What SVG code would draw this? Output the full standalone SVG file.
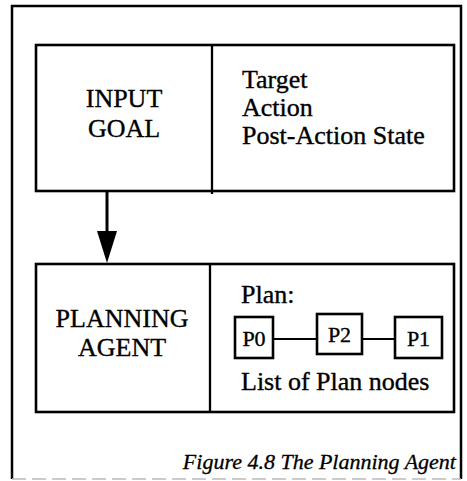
<svg xmlns="http://www.w3.org/2000/svg" width="467" height="481" viewBox="0 0 467 481">
  <style>
    .box { fill: none; stroke: #000; stroke-width: 2.6; }
    .rule { stroke: #000; stroke-width: 2.3; }
    .lbl { font-family: "Liberation Serif", "Times New Roman", serif; font-size: 26px; fill: #000; stroke: #000; stroke-width: 0.35; }
    .mid { text-anchor: middle; }
    .small { font-size: 22px; }
    .cap { font-family: "Liberation Serif", "Times New Roman", serif; font-size: 22px; font-style: italic; fill: #000; stroke: #000; stroke-width: 0.3; text-anchor: end; }
  </style>
  <rect width="467" height="481" fill="#fff"/>

  <!-- outer frame -->
  <g id="frame">
    <path d="M12,479 V6 H461 V479" fill="none" stroke="#000" stroke-width="2.5"/>
    <line x1="12" y1="479" x2="461" y2="479" stroke="#bbb" stroke-width="1.5" stroke-dasharray="14 6"/>
  </g>

  <!-- input goal -->
  <g id="input-goal">
    <rect class="box" x="36" y="45" width="418" height="146"/>
    <line class="rule" x1="212" y1="45" x2="212" y2="194"/>
    <text class="lbl mid" x="124" y="107">INPUT</text>
    <text class="lbl mid" x="124" y="137">GOAL</text>
    <text class="lbl" x="242" y="88">Target</text>
    <text class="lbl" x="242" y="116">Action</text>
    <text class="lbl" x="242" y="144">Post-Action State</text>
  </g>

  <!-- planning agent -->
  <g id="planning-agent">
    <rect class="box" x="36" y="264" width="418" height="148"/>
    <line class="rule" x1="210" y1="264" x2="210" y2="412"/>
    <text class="lbl mid" x="122" y="327">PLANNING</text>
    <text class="lbl mid" x="122" y="356">AGENT</text>
    <text class="lbl" x="241" y="303">Plan:</text>
    <text class="lbl" x="241" y="390">List of Plan nodes</text>
  </g>

  <g id="p0">
    <rect class="box" x="235" y="317" width="38" height="41"/>
    <text class="lbl small mid" x="254" y="346">P0</text>
  </g>
  <g id="p2">
    <rect class="box" x="317" y="314" width="45" height="40"/>
    <text class="lbl small mid" x="339.5" y="342">P2</text>
  </g>
  <g id="p1">
    <rect class="box" x="395" y="317" width="47" height="41"/>
    <text class="lbl small mid" x="418.5" y="346">P1</text>
  </g>

  <!-- connectors -->
  <g id="connectors">
    <line x1="107" y1="191" x2="107" y2="233" stroke="#000" stroke-width="3"/>
    <polygon points="97,231 117,231 107,263" fill="#000"/>
    <line x1="273" y1="339" x2="317" y2="339" stroke="#000" stroke-width="2.2"/>
    <line x1="362" y1="339" x2="395" y2="339" stroke="#000" stroke-width="2.2"/>
  </g>

  <text class="cap" x="456" y="469">Figure 4.8  The Planning Agent</text>
</svg>
